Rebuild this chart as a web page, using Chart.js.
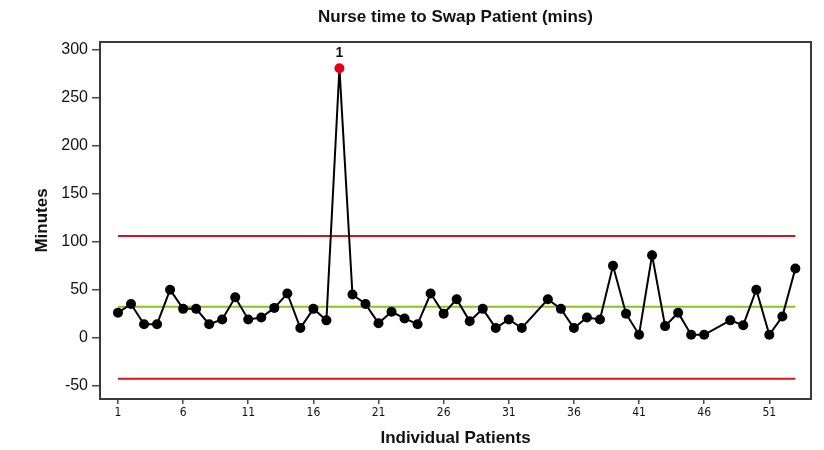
<!DOCTYPE html>
<html>
<head>
<meta charset="utf-8">
<title>Nurse time to Swap Patient</title>
<script src="https://cdn.jsdelivr.net/npm/chart.js@4.4.1/dist/chart.umd.min.js"></script>
<style>
	html, body { margin: 0; padding: 0; background: #fff; }
	#wrap { width: 824px; height: 450px; }
</style>
</head>
<body>
<div id="wrap"><canvas id="chartSwap" width="824" height="450"></canvas></div>
<script>
'use strict'

// data (patient 33 and 47 have no value)
const patients = [
	1, 2, 3, 4, 5, 6, 7, 8, 9, 10, 11, 12, 13, 14, 15, 16, 17, 18, 19, 20,
	21, 22, 23, 24, 25, 26, 27, 28, 29, 30, 31, 32, 34, 35, 36, 37, 38, 39, 40,
	41, 42, 43, 44, 45, 46, 48, 49, 50, 51, 52, 53,
];
const minutes = [
	26, 35, 14, 14, 50, 30, 30, 14, 19, 42, 19, 21, 31, 46, 10, 30, 18, 281, 45, 35,
	15, 27, 20, 14, 46, 25, 40, 17, 30, 10, 19, 10, 40, 30, 10, 21, 19, 75, 25,
	3, 86, 12, 26, 3, 3, 18, 13, 50, 3, 22, 72,
];
const xTicks = [1, 6, 11, 16, 21, 26, 31, 36, 41, 46, 51];
const yTicks = [-50, 0, 50, 100, 150, 200, 250, 300];
const centerLine = 32.3;
const upperLimit = 106;
const lowerLimit = -43;

const colors = {
	line: '#000000',
	point: '#000000',
	signal: '#e0001b',
	limit: '#d7141e',
	center: '#8cc21c',
	frame: '#3a3a3a',
	tick: '#4a4a4a',
	text: '#111111',
};

const sansFont = "'Liberation Sans', Arial, sans-serif";
const narrowFont = "'Liberation Sans Narrow', 'DejaVu Sans Condensed', 'Liberation Sans', sans-serif";

const firstX = patients[0];
const lastX = patients[patients.length - 1];

const isSignal = (v) => v > upperLimit || v < lowerLimit;

const points = patients.map((p, i) => ({ x: p, y: minutes[i] }));
const pointColors = minutes.map((v) => isSignal(v) ? colors.signal : colors.point);

const hLine = (value) => [{ x: firstX, y: value }, { x: lastX, y: value }];

// box around the plot area
const plotFrame = {
	id: 'plotFrame',
	afterDraw(chart) {
		const { ctx, chartArea: { left, top, width, height } } = chart;
		ctx.save();
		ctx.strokeStyle = colors.frame;
		ctx.lineWidth = 2;
		ctx.strokeRect(left, top, width, height);
		ctx.restore();
	},
};

// number the out-of-control points
const signalNumbers = {
	id: 'signalNumbers',
	afterDatasetsDraw(chart) {
		const { ctx } = chart;
		const meta = chart.getDatasetMeta(0);
		let n = 0;
		ctx.save();
		ctx.font = 'bold 14px ' + sansFont;
		ctx.fillStyle = colors.text;
		ctx.textAlign = 'center';
		ctx.textBaseline = 'middle';
		minutes.forEach((v, i) => {
			if (!isSignal(v)) return;
			n++;
			const { x, y } = meta.data[i];
			ctx.fillText(String(n), x, y - 15);
		});
		ctx.restore();
	},
};

new Chart(document.getElementById('chartSwap'), {
	type: 'line',
	data: {
		datasets: [
			{
				label: 'Minutes',
				data: points,
				borderColor: colors.line,
				borderWidth: 2,
				pointRadius: 5,
				pointBackgroundColor: pointColors,
				pointBorderColor: pointColors,
				pointBorderWidth: 0,
				tension: 0,
			},
			{
				label: 'UCL',
				data: hLine(upperLimit),
				borderColor: colors.limit,
				borderWidth: 2,
				pointRadius: 0,
			},
			{
				label: 'CL',
				data: hLine(centerLine),
				borderColor: colors.center,
				borderWidth: 2,
				pointRadius: 0,
			},
			{
				label: 'LCL',
				data: hLine(lowerLimit),
				borderColor: colors.limit,
				borderWidth: 2,
				pointRadius: 0,
			},
		],
	},
	options: {
		responsive: false,
		animation: false,
		events: [],
		layout: {
			padding: { left: 0, right: 13, top: 0, bottom: 0 },
		},
		plugins: {
			legend: { display: false },
			tooltip: { enabled: false },
			title: {
				display: true,
				fullSize: false,
				text: 'Nurse time to Swap Patient (mins)',
				color: colors.text,
				font: { family: sansFont, size: 17, weight: 'bold', lineHeight: 1.2 },
				padding: { top: 7, bottom: 14.6 },
			},
		},
		scales: {
			x: {
				type: 'linear',
				min: -0.38,
				max: 54.2,
				afterFit(scale) { scale.height = 51; },
				afterBuildTicks(scale) { scale.ticks = xTicks.map((v) => ({ value: v })); },
				grid: {
					drawOnChartArea: false,
					drawTicks: true,
					tickLength: 5,
					color: colors.tick,
					lineWidth: 1.5,
				},
				border: { display: false },
				ticks: {
					autoSkip: false,
					maxRotation: 0,
					padding: 2,
					color: colors.text,
					font: { family: narrowFont, size: 12 },
				},
				title: {
					display: true,
					text: 'Individual Patients',
					color: colors.text,
					font: { family: sansFont, size: 17, weight: 'bold', lineHeight: 1.2 },
					padding: { top: 0, bottom: 1.8 },
				},
			},
			y: {
				type: 'linear',
				min: -64,
				max: 308.3,
				afterFit(scale) { scale.width = 100; },
				afterBuildTicks(scale) { scale.ticks = yTicks.map((v) => ({ value: v })); },
				grid: {
					drawOnChartArea: false,
					drawTicks: true,
					tickLength: 8,
					color: colors.tick,
					lineWidth: 1.5,
				},
				border: { display: false },
				ticks: {
					padding: 4,
					color: colors.text,
					font: { family: sansFont, size: 16 },
				},
				title: {
					display: true,
					text: 'Minutes',
					color: colors.text,
					font: { family: sansFont, size: 17, weight: 'bold', lineHeight: 1.2 },
					padding: { top: 31.8, bottom: 0 },
				},
			},
		},
	},
	plugins: [plotFrame, signalNumbers],
});
</script>
</body>
</html>
